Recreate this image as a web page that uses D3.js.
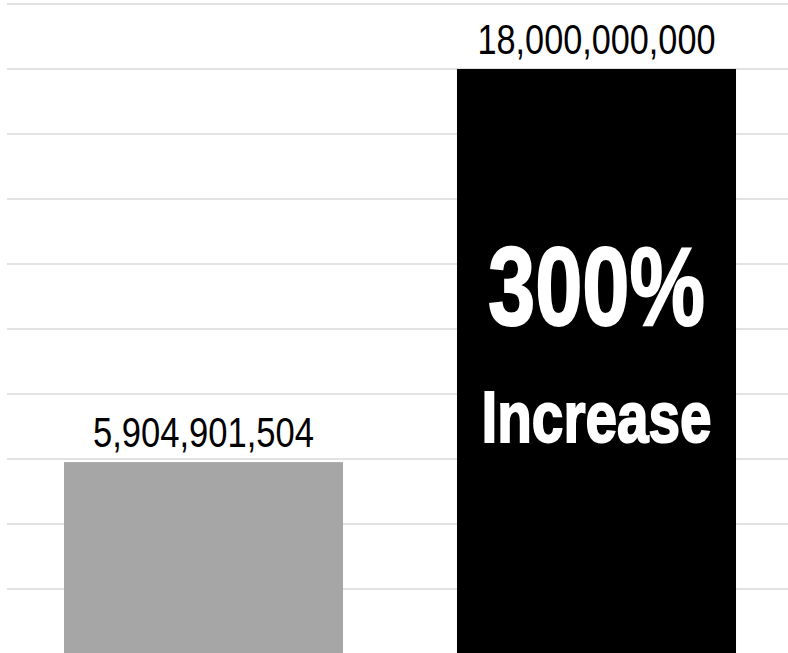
<!DOCTYPE html>
<html>
<head>
<meta charset="utf-8">
<script src="https://cdn.jsdelivr.net/npm/d3@7"></script>
<style>
  html, body { margin: 0; padding: 0; background: #fff; }
  svg { display: block; }
</style>
</head>
<body>
<div id="chart"></div>
<script>
var categories = ["Before", "After"];
var values = [5904901504, 18000000000];
var barColors = ["#a6a6a6", "#000000"];
var tickValues = [0, 2e9, 4e9, 6e9, 8e9, 10e9, 12e9, 14e9, 16e9, 18e9, 20e9];
var calloutLines = ["300%", "Increase"];

var width = 788, height = 653;

var svg = d3.select("#chart")
  .append("svg")
  .attr("width", width)
  .attr("height", height);

var x = d3.scaleBand()
  .domain(categories)
  .range([7, 793])
  .paddingInner(0.29)
  .paddingOuter(0.145);

var y = d3.scaleLinear()
  .domain([0, 20e9])
  .range([654, 4]);

// gridlines
svg.append("g")
  .selectAll("line")
  .data(tickValues)
  .enter().append("line")
  .attr("x1", 7)
  .attr("x2", width)
  .attr("y1", function(d) { return y(d); })
  .attr("y2", function(d) { return y(d); })
  .attr("stroke", "#d9d9d9")
  .attr("stroke-width", 1.5);

var data = categories.map(function(c, i) { return { cat: c, value: values[i], color: barColors[i] }; });

svg.append("g")
  .selectAll("rect")
  .data(data)
  .enter().append("rect")
  .attr("x", function(d) { return x(d.cat); })
  .attr("y", function(d) { return y(d.value); })
  .attr("width", x.bandwidth())
  .attr("height", function(d) { return y(0) - y(d.value); })
  .attr("fill", function(d) { return d.color; });

var fmt = d3.format(",");

svg.append("g")
  .selectAll("text")
  .data(data)
  .enter().append("text")
  .attr("x", function(d) { return x(d.cat) + x.bandwidth() / 2; })
  .attr("y", function(d) { return y(d.value) - 15; })
  .attr("text-anchor", "middle")
  .attr("font-family", "'Liberation Sans Narrow', 'Arial Narrow', 'Liberation Sans', sans-serif")
  .attr("font-size", 42)
  .attr("textLength", function(d) { return fmt(d.value).length * 17; })
  .attr("lengthAdjust", "spacingAndGlyphs")
  .attr("fill", "#000")
  .text(function(d) { return fmt(d.value); });

// callout inside the big bar
var cx = x(categories[1]) + x.bandwidth() / 2;
var callout = [
  { text: calloutLines[0], size: 112, base: 325, len: 217 },
  { text: calloutLines[1], size: 73, base: 442, len: 230 }
];

svg.append("g")
  .selectAll("text")
  .data(callout)
  .enter().append("text")
  .attr("x", cx)
  .attr("y", function(d) { return d.base; })
  .attr("text-anchor", "middle")
  .attr("font-family", "'Liberation Sans Narrow', 'Arial Narrow', 'Liberation Sans', sans-serif")
  .attr("font-weight", "bold")
  .attr("font-size", function(d) { return d.size; })
  .attr("textLength", function(d) { return d.len; })
  .attr("lengthAdjust", "spacingAndGlyphs")
  .attr("fill", "#fff")
  .attr("stroke", "#fff")
  .attr("stroke-width", 2)
  .text(function(d) { return d.text; });
</script>
</body>
</html>
